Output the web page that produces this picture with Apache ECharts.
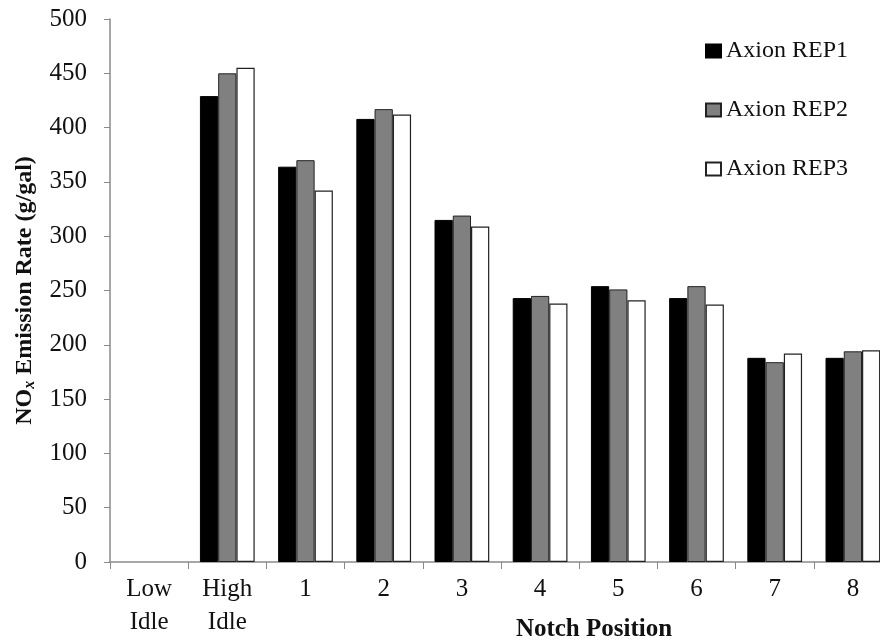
<!DOCTYPE html>
<html><head><meta charset="utf-8">
<script src="https://cdn.jsdelivr.net/npm/echarts@6/dist/echarts.min.js"></script>
<style>html,body{margin:0;padding:0;background:#fff}#c{width:880px;height:640px}</style>
</head><body><div id="c"></div>
<script>
const categories = ['Low\nIdle', 'High\nIdle', '1', '2', '3', '4', '5', '6', '7', '8'];
const rep1 = [null, 429, 364, 408, 315, 243, 254, 243, 188, 188];
const rep2 = [null, 450, 370, 417, 319, 245, 251, 254, 184, 194];
const rep3 = [null, 455, 342, 412, 309, 238, 241, 237, 192, 195];
const yTicks = { min: 0, max: 500, interval: 50 };

const font = 'Liberation Serif, Times New Roman, serif';
const chart = echarts.init(document.getElementById('c'));
chart.setOption({
  animation: false,
  backgroundColor: '#fff',
  grid: { left: 110, right: -12, top: 19, bottom: 78, outerBoundsMode: 'none', containLabel: false },
  legend: {
    orient: 'vertical', left: 700, top: 34, itemGap: 35,
    itemWidth: 15, itemHeight: 13, icon: 'rect',
    textStyle: { fontFamily: font, fontSize: 24, lineHeight: 24, color: '#111' },
    data: ['Axion REP1', 'Axion REP2', 'Axion REP3']
  },
  xAxis: {
    type: 'category', data: categories,
    name: 'Notch Position', nameLocation: 'middle', nameGap: 55, nameMoveOverlap: false,
    nameTextStyle: { fontFamily: font, fontSize: 25, fontWeight: 'bold', color: '#111', padding: [0, 0, 0, 186] },
    axisLine: { lineStyle: { color: '#8a8a8a', width: 1.5 } },
    axisTick: { show: true, length: 7, lineStyle: { color: '#8a8a8a' } },
    axisLabel: { fontFamily: font, fontSize: 25, color: '#111', lineHeight: 33, margin: 11 }
  },
  yAxis: {
    type: 'value', min: yTicks.min, max: yTicks.max, interval: yTicks.interval,
    name: '{n|NO}{s|x}{n| Emission Rate (g/gal)}', nameLocation: 'middle', nameGap: 72, nameRotate: 90,
    nameMoveOverlap: false,
    nameTextStyle: {
      rich: {
        n: { fontFamily: font, fontSize: 24, fontWeight: 'bold', color: '#111' },
        s: { fontFamily: font, fontSize: 16, fontWeight: 'bold', fontStyle: 'italic', color: '#111', verticalAlign: 'bottom', padding: [10, 0, 0, 0] }
      }
    },
    axisLine: { show: true, lineStyle: { color: '#8a8a8a', width: 1.5 } },
    axisTick: { show: true, length: 6, lineStyle: { color: '#8a8a8a' } },
    splitLine: { show: false },
    axisLabel: { fontFamily: font, fontSize: 25, color: '#111', margin: 23 }
  },
  series: [
    { name: 'Axion REP1', type: 'bar', data: rep1, barGap: '0%', barCategoryGap: '30%',
      itemStyle: { color: '#000', borderColor: '#000', borderWidth: 1 } },
    { name: 'Axion REP2', type: 'bar', data: rep2,
      itemStyle: { color: '#808080', borderColor: '#222', borderWidth: 1 } },
    { name: 'Axion REP3', type: 'bar', data: rep3,
      itemStyle: { color: '#fff', borderColor: '#222', borderWidth: 1.2 } }
  ]
});
</script></body></html>
